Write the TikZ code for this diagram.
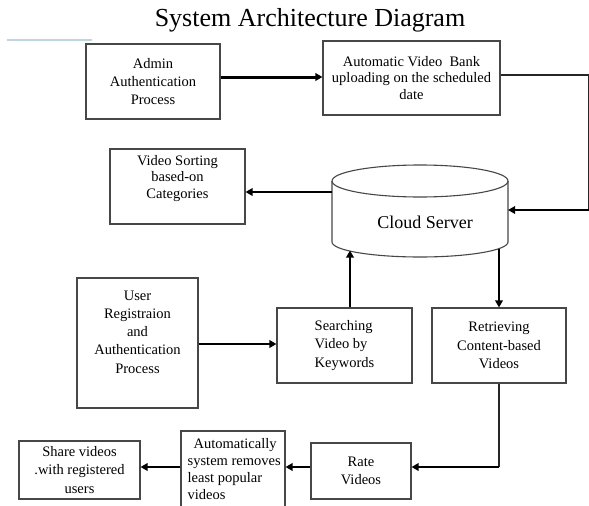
\documentclass[tikz,border=0pt]{standalone}
\usepackage{fontspec}
\setmainfont{Liberation Serif}
\usetikzlibrary{arrows.meta}
\begin{document}
\begin{tikzpicture}[x=1pt,y=-1pt,
  box/.style={draw=black!72, line width=1.1pt, inner sep=0pt, align=center,
    font=\fontsize{14.5}{18.3}\selectfont},
  tightbox/.style={box, font=\fontsize{14.5}{16.5}\selectfont},
  conn/.style={line width=1.7pt, -{Triangle[length=7pt,width=7.5pt]}},
  plain/.style={line width=1.1pt, draw=black!85},
  boxtext/.style={inner sep=0pt, align=left, font=\fontsize{14.5}{17}\selectfont},
]
\fill[white] (0,0) rectangle (589,506);
\useasboundingbox (0,0) rectangle (589,506);

% title and decorative line
\node[font=\fontsize{26}{28}\selectfont] (title) at (310,20) {System Architecture Diagram};
\draw[line width=1.5pt, color={rgb,255:red,190;green,214;blue,224}] (7,40) -- (92,40);

% boxes
\node[box, minimum width=134pt, minimum height=75pt] (admin) at (153,81.5)
  {Admin\\Authentication\\Process};
\node[tightbox, minimum width=177pt, minimum height=74pt] (auto) at (411.5,78)
  {Automatic Video\ \ Bank\\uploading on the scheduled\\date};
\node[tightbox, minimum width=135pt, minimum height=75pt] (vsort) at (177.5,186.5)
  {Video Sorting\\based-on\\Categories\\[3pt]};
\node[box, minimum width=121pt, minimum height=130pt] (user) at (137.5,343)
  {User\\Registraion\\and\\Authentication\\Process\\[4pt]};
\node[box, minimum width=135pt, minimum height=75pt, align=left] (search) at (344.5,345.5)
  {Searching\\Video by\\Keywords};
\node[box, minimum width=134pt, minimum height=75pt] (retr) at (499,345.5)
  {Retrieving\\Content-based\\Videos};
\node[box, minimum width=121pt, minimum height=58pt] (share) at (79.5,470)
  {Share videos\\.with registered\\users};
\node[box, minimum width=104pt, minimum height=99pt] (autorm) at (233,480.5) {};
\node[boxtext, anchor=north west] (autormtxt) at (187.5,438)
  {\hspace{6pt}Automatically\\system removes\\least popular\\videos};
\node[box, minimum width=100pt, minimum height=56pt] (rate) at (361,471)
  {Rate\\Videos};

% cloud server cylinder
\draw[draw=black!72, line width=1.1pt, fill=white]
  (332,181) -- (332,242) arc[start angle=180, end angle=360, x radius=88pt, y radius=15pt] -- (508,181);
\draw[draw=black!72, line width=1.1pt] (420,181) ellipse [x radius=88pt, y radius=16pt];
\node[font=\fontsize{18}{20}\selectfont] (cloud) at (425,222) {Cloud Server};
\coordinate (cloudW) at (332,192);
\coordinate (cloudE) at (508,210);
\coordinate (cloudB1) at (350,250.5);
\coordinate (cloudB2) at (499,248.5);

% connector helpers
\coordinate (rTop) at (588.5,75);
\coordinate (rBot) at (588.5,210);
\coordinate (bA) at (499,467);

% connectors
\draw[conn, line width=3pt] ([yshift=4.5pt]admin.east) -- ([yshift=4.5pt]admin.east -| auto.west);
\draw[plain] (rTop -| auto.east) -- (rTop) -- (rBot);
\draw[conn] (rBot) -- (cloudE);
\draw[conn] (cloudW) -- (cloudW -| vsort.east);
\draw[conn] (search.north -| cloudB1) -- (cloudB1);
\draw[conn] (cloudB2) -- (cloudB2 |- retr.north);
\draw[conn, line width=2.6pt] ([yshift=-1pt]user.east) -- ([yshift=-1pt]user.east -| search.west);
\draw[plain, line width=1.3pt] (retr.south) -- (bA);
\draw[conn, line width=2.2pt] (bA) -- (bA -| rate.east);
\draw[conn, line width=2.2pt] (bA -| rate.west) -- (bA -| autorm.east);
\draw[conn, line width=2.2pt] (bA -| autorm.west) -- (bA -| share.east);
\end{tikzpicture}
\end{document}
